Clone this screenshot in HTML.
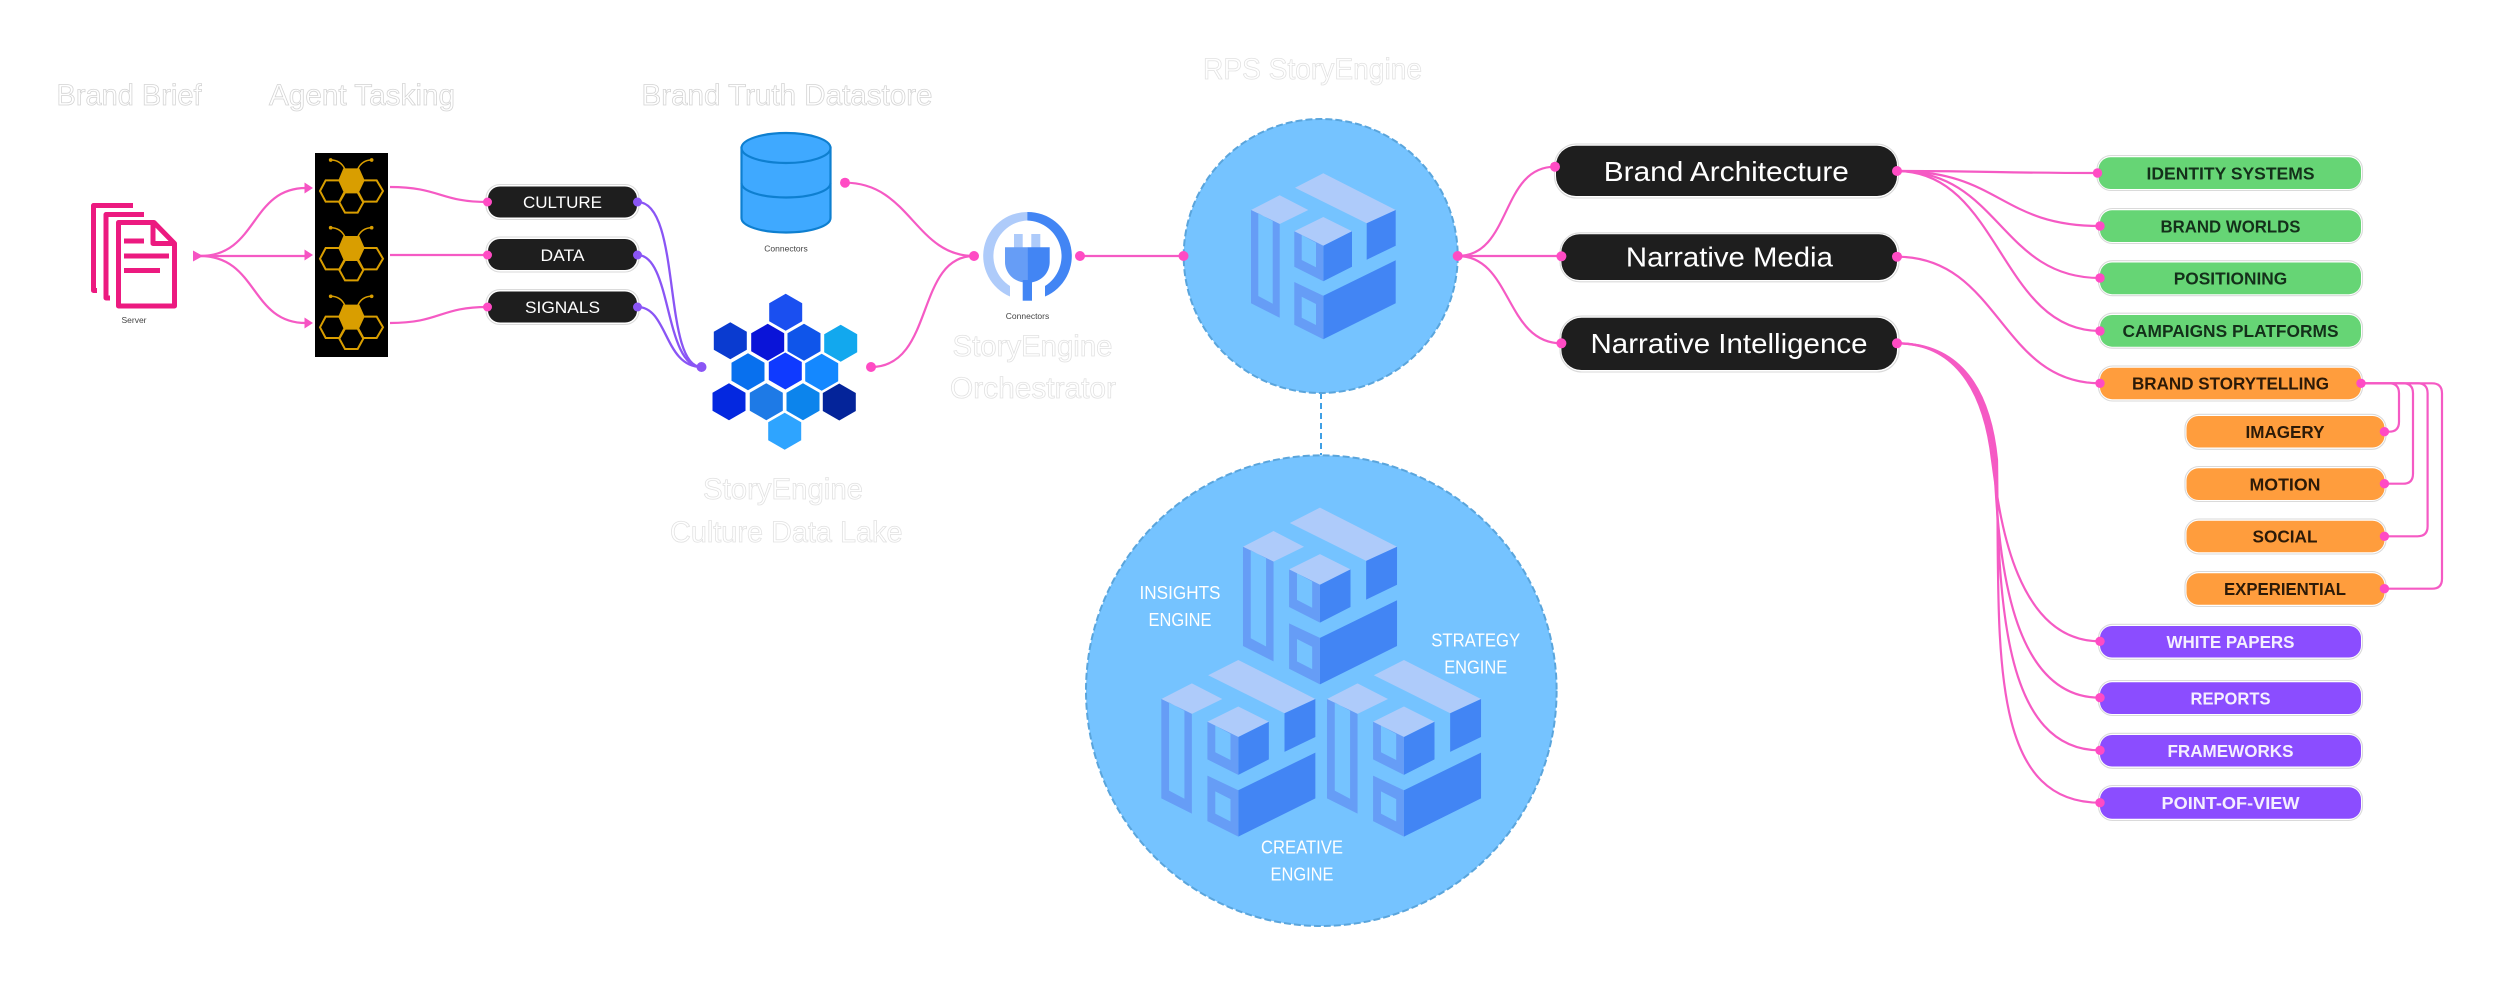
<!DOCTYPE html>
<html><head><meta charset="utf-8"><title>RPS StoryEngine</title>
<style>
html,body{margin:0;padding:0;background:#fff;width:2500px;height:984px;overflow:hidden}
svg{display:block}
text{font-family:"Liberation Sans",sans-serif}
.t{font-size:30px;fill:#fff;stroke:#d4d4d4;stroke-width:.8}
.lt{stroke:#e2e2e2}
.s{font-size:8.5px;fill:#444;text-anchor:middle}
.k{font-size:17px;fill:#fff;text-anchor:middle}
.h{font-size:28px;fill:#fff;text-anchor:middle}
.w{font-size:18px;fill:#fff;text-anchor:middle}
.g{font-size:17.5px;font-weight:bold;text-anchor:middle;fill:#14301a}
.o{font-size:17.5px;font-weight:bold;text-anchor:middle;fill:#2c1a08}
.p{font-size:17.5px;font-weight:bold;text-anchor:middle;fill:#f5efff}
.l{fill:none;stroke:#F55AC4;stroke-width:2.2}
.v{fill:none;stroke:#8A55F5;stroke-width:2.3}
.d{fill:#FF4BC4}
.e{fill:none;stroke:#dadada;stroke-width:1.1}
</style></head><body>
<svg width="2500" height="984" viewBox="0 0 2500 984" xmlns="http://www.w3.org/2000/svg">
<defs>
<g id="cube">
<polygon fill="#AECBFA" points="65,37.7 93.3,23.3 165.7,60 136.7,73.3"/>
<polygon fill="#AECBFA" points="21,60 49.7,45.3 78.3,60 49.7,74"/>
<polygon fill="#AECBFA" points="64.3,81.3 93.3,67 122,81.3 93.3,95.7"/>
<polygon fill="#4285F4" points="136.7,73.3 165.7,60 165.7,95.7 136.7,109.7"/>
<polygon fill="#4285F4" points="93.3,95.7 122,81.3 122,116.7 93.3,131.3"/>
<polygon fill="#4285F4" points="93.3,145.7 165.7,110.3 165.7,153.3 93.3,189.3"/>
<path fill="#669DF6" fill-rule="evenodd" d="M21 60 49.7 74V167.7L21 153.3ZM28.3 63.3V146L42.7 153.7V71Z"/>
<path fill="#669DF6" fill-rule="evenodd" d="M64.3 81.3 93.3 95.7V131.3L64.3 116.7ZM71.7 85V110L86 117.3V92.7Z"/>
<path fill="#669DF6" fill-rule="evenodd" d="M64.3 132 93.3 145.7V189.3L64.3 174.7ZM71.7 146.7V167.7L86 175V154Z"/>
</g>
<g id="bee" fill="none" stroke="#D99E00" stroke-width="6">
<polygon fill="#D99E00" stroke="none" points="190,85 238,85 254,121 238,155 190,155 175,121"/>
<polygon points="120,153 137,121 178,121 195,153 178,185 137,185"/>
<polygon points="233,153 250,121 290,121 309,153 290,185 250,185"/>
<polygon points="178,187 195,157 233,157 250,187 233,218 195,218"/>
<path d="M195 88C186 68 172 60 152 60M233 88C242 68 256 60 275 60" stroke-width="4.5"/>
<circle cx="152" cy="60" r="5.5" fill="#D99E00" stroke="none"/>
<circle cx="275" cy="60" r="5.5" fill="#D99E00" stroke="none"/>
</g>
<polygon id="hx" points="0,-18.5 16.5,-9 16.5,9 0,18.5 -16.5,9 -16.5,-9"/>
</defs>

<!-- titles -->
<text class="t" x="56.500" y="105" textLength="145" lengthAdjust="spacingAndGlyphs">Brand Brief</text>
<text class="t" x="269" y="105" textLength="186" lengthAdjust="spacingAndGlyphs">Agent Tasking</text>
<text class="t" x="641.500" y="105" textLength="291" lengthAdjust="spacingAndGlyphs">Brand Truth Datastore</text>
<text class="t lt" x="1203" y="79" textLength="219" lengthAdjust="spacingAndGlyphs">RPS StoryEngine</text>
<text class="t lt" x="952.500" y="356" textLength="160" lengthAdjust="spacingAndGlyphs">StoryEngine</text>
<text class="t lt" x="950" y="398" textLength="166" lengthAdjust="spacingAndGlyphs">Orchestrator</text>
<text class="t lt" x="703" y="499" textLength="160" lengthAdjust="spacingAndGlyphs">StoryEngine</text>
<text class="t lt" x="670" y="542" textLength="232.500" lengthAdjust="spacingAndGlyphs">Culture Data Lake</text>

<!-- document icon -->
<g fill="none" stroke="#EC1A80" stroke-width="5" stroke-linejoin="round">
<path d="M133 205.500H93.500V290.500H97"/>
<path d="M144 214.500H106V298H110"/>
<path d="M154 222.500H118.500V306H174.500V243.500Z" fill="#fff"/>
<path d="M153 222.500V243.500H174.500"/>
<path d="M124 241H144M124 256H169M124 270.500H160"/>
</g>
<text class="s" x="134" y="323">Server</text>

<!-- left connectors -->
<path class="l" d="M200 256C258 256 250 188 306 188"/>
<path class="l" d="M200 256H306"/>
<path class="l" d="M200 256C258 256 250 323 306 323"/>
<path class="l" d="M390 187C440 187 440 202 487.500 202"/>
<path class="l" d="M390 255H487.500"/>
<path class="l" d="M390 323C440 323 440 307 487.500 307"/>
<polygon fill="#F653C3" points="193,250.500 203,256 193,261.500"/>
<polygon fill="#F653C3" points="304.500,182.500 313,188 304.500,193.500"/>
<polygon fill="#F653C3" points="304.500,249.500 313,255 304.500,260.500"/>
<polygon fill="#F653C3" points="304.500,317.500 313,323 304.500,328.500"/>

<!-- agents -->
<rect x="315" y="153" width="73" height="204" fill="#000"/>
<g transform="translate(280 140) scale(.3333)"><use href="#bee"/></g>
<g transform="translate(280 207.700) scale(.3333)"><use href="#bee"/></g>
<g transform="translate(280 276.300) scale(.3333)"><use href="#bee"/></g>

<!-- dark small pills -->
<rect class="e" x="486" y="184.500" width="153" height="35" rx="14"/>
<rect x="488" y="186.500" width="149" height="31" rx="12" fill="#1e1e1e"/>
<text class="k" x="562.500" y="208" textLength="79" lengthAdjust="spacingAndGlyphs">CULTURE</text>
<rect class="e" x="486" y="237" width="153" height="35" rx="14"/>
<rect x="488" y="239" width="149" height="31" rx="12" fill="#1e1e1e"/>
<text class="k" x="562.500" y="261" textLength="44" lengthAdjust="spacingAndGlyphs">DATA</text>
<rect class="e" x="486" y="289.500" width="153" height="35" rx="14"/>
<rect x="488" y="291.500" width="149" height="31" rx="12" fill="#1e1e1e"/>
<text class="k" x="562.500" y="313" textLength="75" lengthAdjust="spacingAndGlyphs">SIGNALS</text>

<!-- purple connectors -->
<path class="v" d="M637.500 202C682 202 662 367 701.500 367"/>
<path class="v" d="M637.500 255C672 255 664 367 701.500 367"/>
<path class="v" d="M637.500 307C668 307 664 367 701.500 367"/>
<g fill="#8A55F5"><circle cx="637.500" cy="202" r="4.500"/><circle cx="637.500" cy="255" r="4.500"/><circle cx="637.500" cy="307" r="4.500"/><circle cx="701.500" cy="367" r="5"/></g>
<g class="d"><circle cx="487.500" cy="202" r="4.500"/><circle cx="487.500" cy="255" r="4.500"/><circle cx="487.500" cy="307" r="4.500"/></g>

<!-- cylinder -->
<g stroke="#0E7FD0" stroke-width="2.2" fill="#3FA9FF">
<path d="M741.500 148V218C741.500 226 761 232.500 786 232.500S830.500 226 830.500 218V148Z"/>
<ellipse cx="786" cy="148" rx="44.500" ry="15"/>
<path d="M741.500 183C741.500 191 761 197.500 786 197.500S830.500 191 830.500 183" fill="none"/>
</g>
<text class="s" x="786" y="251.500">Connectors</text>

<!-- hex lake -->
<g>
<use href="#hx" x="785.700" y="312.300" fill="#1A4FF0"/>
<use href="#hx" x="730.300" y="340.700" fill="#0A3BD0"/>
<use href="#hx" x="767.700" y="342.300" fill="#0A14D8"/>
<use href="#hx" x="804" y="342.300" fill="#0F55EA"/>
<use href="#hx" x="840.700" y="343.300" fill="#12A8EE"/>
<use href="#hx" x="748" y="371.700" fill="#0870EE"/>
<use href="#hx" x="785.300" y="371" fill="#0F3AFF"/>
<use href="#hx" x="821.700" y="372.300" fill="#1488FF"/>
<use href="#hx" x="729" y="401.700" fill="#0428E0"/>
<use href="#hx" x="766.300" y="401.700" fill="#1E7AE6"/>
<use href="#hx" x="803" y="401.700" fill="#0C84EC"/>
<use href="#hx" x="839.300" y="402" fill="#04249A"/>
<use href="#hx" x="784.700" y="431.300" fill="#2EA4FF"/>
</g>

<!-- orchestrator connectors -->
<path class="l" d="M845 182.700C910 182.700 915 256 974 256"/>
<path class="l" d="M871 367C935 367 915 256 974 256"/>
<path class="l" d="M1080 256H1183.500"/>
<g class="d"><circle cx="845" cy="182.700" r="5"/><circle cx="871" cy="367" r="5"/><circle cx="974" cy="256" r="5"/><circle cx="1080" cy="256" r="5"/></g>

<!-- plug -->
<path fill="#AECBFA" d="M1027.300 212A44 44 0 0 0 1010 296.500V286A35.500 35.500 0 0 1 1027.300 220.500Z"/>
<path fill="#4285F4" d="M1027.300 212A44 44 0 0 1 1045 296.500V286A35.500 35.500 0 0 0 1027.300 220.500Z"/>
<rect x="1014" y="234" width="8.700" height="14" fill="#AECBFA"/>
<rect x="1031.300" y="234" width="9" height="14" fill="#AECBFA"/>
<path fill="#669DF6" d="M1005 247.300H1027.300V282.700C1013 282.700 1005 272 1005 262Z"/>
<path fill="#4285F4" d="M1049.700 247.300H1027.300V282.700C1042 282.700 1049.700 272 1049.700 262Z"/>
<rect x="1022.700" y="280" width="9.300" height="20.700" fill="#4285F4"/>
<text class="s" x="1027.500" y="319">Connectors</text>

<!-- circles -->
<line x1="1321" y1="393" x2="1321" y2="455" stroke="#3F9FE4" stroke-width="2" stroke-dasharray="6 4"/>
<circle cx="1320.700" cy="256" r="137" fill="#75C3FF" stroke="#5AA5DC" stroke-width="2" stroke-dasharray="7 3"/>
<g transform="translate(1230 150)"><use href="#cube"/></g>
<circle cx="1321.300" cy="690.700" r="235.300" fill="#75C3FF" stroke="#5AA5DC" stroke-width="2" stroke-dasharray="7 3"/>
<g transform="translate(1220.640 482.830) scale(1.0645)"><use href="#cube"/></g>
<g transform="translate(1138.970 635.160) scale(1.0645)"><use href="#cube"/></g>
<g transform="translate(1304.640 635.160) scale(1.0645)"><use href="#cube"/></g>
<text class="w" x="1180" y="599" textLength="81" lengthAdjust="spacingAndGlyphs">INSIGHTS</text>
<text class="w" x="1180" y="626" textLength="63" lengthAdjust="spacingAndGlyphs">ENGINE</text>
<text class="w" x="1475.700" y="646.500" textLength="89" lengthAdjust="spacingAndGlyphs">STRATEGY</text>
<text class="w" x="1475.700" y="673.500" textLength="63" lengthAdjust="spacingAndGlyphs">ENGINE</text>
<text class="w" x="1302" y="853.500" textLength="82" lengthAdjust="spacingAndGlyphs">CREATIVE</text>
<text class="w" x="1302" y="880.500" textLength="63" lengthAdjust="spacingAndGlyphs">ENGINE</text>
<circle class="d" cx="1183.500" cy="256" r="5"/>

<!-- center fan -->
<path class="l" d="M1457.700 256C1512 256 1500 166.700 1555 166.700"/>
<path class="l" d="M1457.700 256H1561.400"/>
<path class="l" d="M1457.700 256C1512 256 1505 343.300 1561.400 343.300"/>
<circle class="d" cx="1457.700" cy="256" r="5"/>

<!-- large dark pills -->
<rect class="e" x="1554.500" y="144" width="344" height="54" rx="22"/>
<rect x="1556" y="145.700" width="341" height="50.300" rx="20" fill="#1e1e1e"/>
<text class="h" x="1726.300" y="181" textLength="245" lengthAdjust="spacingAndGlyphs">Brand Architecture</text>
<rect class="e" x="1560" y="232.800" width="339" height="49" rx="20"/>
<rect x="1561.400" y="234.300" width="335.600" height="45.700" rx="18" fill="#1e1e1e"/>
<text class="h" x="1729.400" y="266.700" textLength="207" lengthAdjust="spacingAndGlyphs">Narrative Media</text>
<rect class="e" x="1560" y="316" width="339" height="56" rx="22"/>
<rect x="1561.400" y="317.700" width="335.600" height="52.300" rx="20" fill="#1e1e1e"/>
<text class="h" x="1729" y="353" textLength="277" lengthAdjust="spacingAndGlyphs">Narrative Intelligence</text>
<g class="d"><circle cx="1555" cy="166.700" r="5"/><circle cx="1561.400" cy="256.300" r="5"/><circle cx="1561.400" cy="343.300" r="5"/></g>

<!-- right connectors -->
<path class="l" d="M1897 171C1990 171 2000 173 2097.500 173"/>
<path class="l" d="M1897 171C2000 171 2000 226 2100 226"/>
<path class="l" d="M1897 171C2000 171 2000 278 2100 278"/>
<path class="l" d="M1897 171C2000 171 2000 331 2100 331"/>
<path class="l" d="M1897 256.700C2000 256.700 2000 383.300 2100 383.300"/>
<path class="l" d="M1897 343.300C1955 343.300 1984 390 1992 460C1998 500 2010 641.300 2100 641.300"/>
<path class="l" d="M1897 343.300C1957 343.300 1986 390 1994 460C1998 540 2005 697.700 2100 697.700"/>
<path class="l" d="M1897 343.300C1959 343.300 1988 390 1995.500 460C2000 580 1997 750.300 2100 750.300"/>
<path class="l" d="M1897 343.300C1961 343.300 1990 390 1997 460C2000 640 1985 802.700 2100 802.700"/>
<path class="l" d="M2361 383.300H2389Q2399 383.300 2399 393.300V421.700Q2399 431.700 2389 431.700H2384.400"/>
<path class="l" d="M2361 383.300H2403Q2413 383.300 2413 393.300V473.700Q2413 483.700 2403 483.700H2384.400"/>
<path class="l" d="M2361 383.300H2417.600Q2427.600 383.300 2427.600 393.300V526.300Q2427.600 536.300 2417.600 536.300H2384.400"/>
<path class="l" d="M2361 383.300H2432Q2442 383.300 2442 393.300V578.700Q2442 588.700 2432 588.700H2384.400"/>

<!-- green -->
<rect class="e" x="2097" y="155.500" width="265.500" height="35" rx="14"/>
<rect x="2098.500" y="157.300" width="262.500" height="31.700" rx="12" fill="#66D575"/>
<text class="g" x="2230.500" y="179.300" textLength="168" lengthAdjust="spacingAndGlyphs">IDENTITY SYSTEMS</text>
<rect class="e" x="2098.500" y="208.500" width="264" height="35" rx="14"/>
<rect x="2100" y="210.300" width="261" height="31.700" rx="12" fill="#66D575"/>
<text class="g" x="2230.500" y="232.300" textLength="140" lengthAdjust="spacingAndGlyphs">BRAND WORLDS</text>
<rect class="e" x="2098.500" y="260.700" width="264" height="35" rx="14"/>
<rect x="2100" y="262.500" width="261" height="31.700" rx="12" fill="#66D575"/>
<text class="g" x="2230.500" y="284.500" textLength="113.500" lengthAdjust="spacingAndGlyphs">POSITIONING</text>
<rect class="e" x="2098.500" y="313.200" width="264" height="35" rx="14"/>
<rect x="2100" y="315" width="261" height="31.700" rx="12" fill="#66D575"/>
<text class="g" x="2230.500" y="337" textLength="216" lengthAdjust="spacingAndGlyphs">CAMPAIGNS PLATFORMS</text>

<!-- orange -->
<rect class="e" x="2098.500" y="366" width="264" height="35" rx="14"/>
<rect x="2100" y="367.700" width="261" height="31.500" rx="12" fill="#FF9D3D"/>
<text class="o" x="2230.500" y="389.600" textLength="197" lengthAdjust="spacingAndGlyphs">BRAND STORYTELLING</text>
<rect class="e" x="2185" y="414.300" width="201" height="35" rx="14"/>
<rect x="2186.500" y="416" width="198" height="31.500" rx="12" fill="#FF9D3D"/>
<text class="o" x="2285" y="438" textLength="79" lengthAdjust="spacingAndGlyphs">IMAGERY</text>
<rect class="e" x="2185" y="466.500" width="201" height="35" rx="14"/>
<rect x="2186.500" y="468.300" width="198" height="31.700" rx="12" fill="#FF9D3D"/>
<text class="o" x="2285" y="490.300" textLength="71" lengthAdjust="spacingAndGlyphs">MOTION</text>
<rect class="e" x="2185" y="519" width="201" height="35" rx="14"/>
<rect x="2186.500" y="520.700" width="198" height="31.500" rx="12" fill="#FF9D3D"/>
<text class="o" x="2285" y="542.600" textLength="65" lengthAdjust="spacingAndGlyphs">SOCIAL</text>
<rect class="e" x="2185" y="571.500" width="201" height="35" rx="14"/>
<rect x="2186.500" y="573.300" width="198" height="31.500" rx="12" fill="#FF9D3D"/>
<text class="o" x="2285" y="595.200" textLength="122" lengthAdjust="spacingAndGlyphs">EXPERIENTIAL</text>

<!-- purple -->
<rect class="e" x="2098.500" y="624.300" width="264" height="35" rx="14"/>
<rect x="2100" y="626" width="261" height="31.500" rx="12" fill="#8B4DFF"/>
<text class="p" x="2230.500" y="648" textLength="128" lengthAdjust="spacingAndGlyphs">WHITE PAPERS</text>
<rect class="e" x="2098.500" y="680.500" width="264" height="35" rx="14"/>
<rect x="2100" y="682.300" width="261" height="31.700" rx="12" fill="#8B4DFF"/>
<text class="p" x="2230.500" y="704.300" textLength="80" lengthAdjust="spacingAndGlyphs">REPORTS</text>
<rect class="e" x="2098.500" y="733.300" width="264" height="35" rx="14"/>
<rect x="2100" y="735" width="261" height="31.500" rx="12" fill="#8B4DFF"/>
<text class="p" x="2230.500" y="756.900" textLength="126" lengthAdjust="spacingAndGlyphs">FRAMEWORKS</text>
<rect class="e" x="2098.500" y="785.500" width="264" height="35" rx="14"/>
<rect x="2100" y="787.300" width="261" height="31.500" rx="12" fill="#8B4DFF"/>
<text class="p" x="2230.500" y="809.200" textLength="138" lengthAdjust="spacingAndGlyphs">POINT-OF-VIEW</text>

<!-- dots -->
<g class="d">
<circle cx="1897" cy="171" r="5"/><circle cx="1897" cy="256.700" r="5"/><circle cx="1897" cy="343.300" r="5"/>
<circle cx="2097.500" cy="173" r="4.700"/><circle cx="2100" cy="226" r="4.700"/><circle cx="2100" cy="278" r="4.700"/><circle cx="2100" cy="331" r="4.700"/><circle cx="2100" cy="383.300" r="4.700"/>
<circle cx="2361" cy="383.300" r="4.700"/>
<circle cx="2384.400" cy="431.700" r="4.700"/><circle cx="2384.400" cy="483.700" r="4.700"/><circle cx="2384.400" cy="536.300" r="4.700"/><circle cx="2384.400" cy="588.700" r="4.700"/>
<circle cx="2100" cy="641.300" r="4.700"/><circle cx="2100" cy="697.700" r="4.700"/><circle cx="2100" cy="750.300" r="4.700"/><circle cx="2100" cy="802.700" r="4.700"/>
</g>
</svg>
</body></html>
